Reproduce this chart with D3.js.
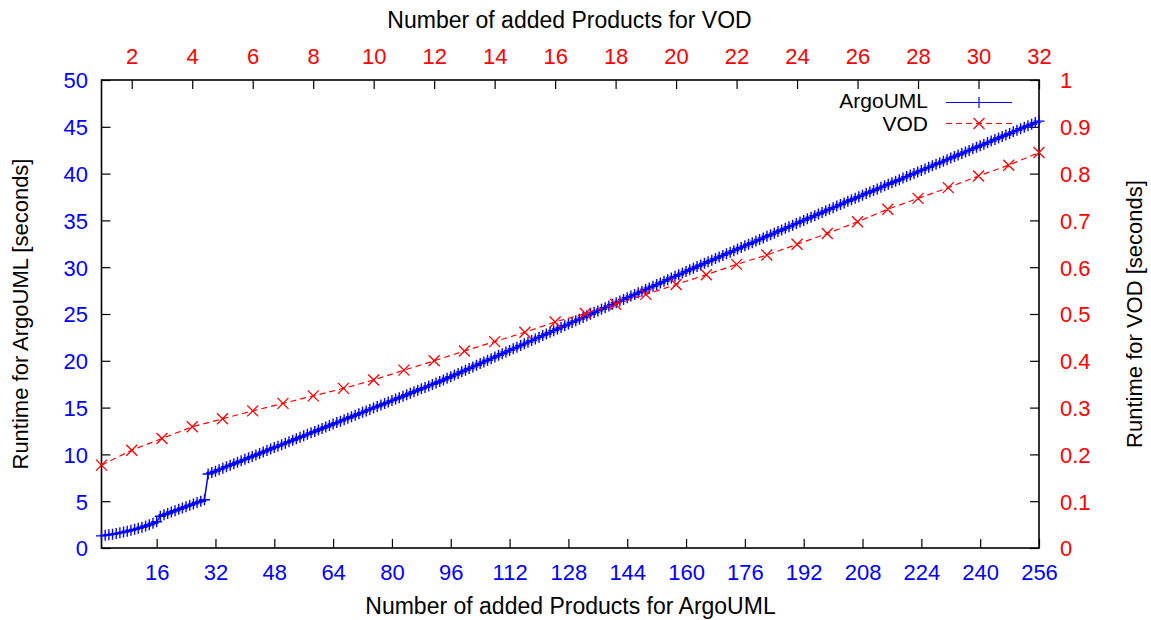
<!DOCTYPE html>
<html>
<head>
<meta charset="utf-8">
<script src="https://cdn.jsdelivr.net/npm/d3@7"></script>
<style>
  html, body { margin: 0; padding: 0; background: #fff; }
  svg text { font-family: "Liberation Sans", Arial, Helvetica, sans-serif; }
</style>
</head>
<body>
<svg id="chart" width="1151" height="620"></svg>
<script>
// ---- Data ----
// ArgoUML runtime (seconds) for 1..256 added products
const argoValues = [
  1.30, 1.35, 1.41, 1.47, 1.54, 1.62, 1.70, 1.79, 1.89, 1.99,
  2.10, 2.22, 2.35, 2.49, 2.64, 2.80, 3.40, 3.55, 3.69, 3.84,
  3.98, 4.13, 4.27, 4.42, 4.57, 4.71, 4.86, 5.00, 5.15, 7.90,
  8.06, 8.21, 8.37, 8.53, 8.69, 8.84, 9.00, 9.16, 9.31, 9.47,
  9.63, 9.78, 9.94, 10.10, 10.26, 10.41, 10.57, 10.73, 10.88, 11.04,
  11.20, 11.35, 11.51, 11.67, 11.83, 11.98, 12.14, 12.30, 12.45, 12.61,
  12.77, 12.92, 13.08, 13.24, 13.40, 13.55, 13.71, 13.87, 14.02, 14.18,
  14.34, 14.49, 14.65, 14.81, 14.97, 15.12, 15.28, 15.44, 15.59, 15.75,
  15.91, 16.06, 16.22, 16.38, 16.54, 16.69, 16.85, 17.01, 17.16, 17.32,
  17.48, 17.63, 17.79, 17.95, 18.13, 18.30, 18.48, 18.65, 18.83, 19.00,
  19.18, 19.35, 19.53, 19.71, 19.88, 20.06, 20.23, 20.41, 20.58, 20.76,
  20.94, 21.11, 21.29, 21.46, 21.64, 21.81, 21.99, 22.16, 22.34, 22.52,
  22.69, 22.87, 23.04, 23.22, 23.39, 23.57, 23.75, 23.92, 24.10, 24.27,
  24.45, 24.62, 24.80, 24.98, 25.15, 25.33, 25.50, 25.68, 25.85, 26.03,
  26.21, 26.38, 26.56, 26.73, 26.91, 27.08, 27.26, 27.43, 27.61, 27.79,
  27.96, 28.14, 28.31, 28.49, 28.66, 28.84, 29.02, 29.19, 29.37, 29.54,
  29.72, 29.89, 30.07, 30.24, 30.41, 30.58, 30.75, 30.92, 31.09, 31.26,
  31.43, 31.60, 31.77, 31.94, 32.11, 32.28, 32.45, 32.62, 32.79, 32.96,
  33.13, 33.30, 33.47, 33.64, 33.81, 33.98, 34.15, 34.32, 34.49, 34.66,
  34.83, 35.00, 35.17, 35.34, 35.51, 35.68, 35.85, 36.02, 36.19, 36.36,
  36.53, 36.70, 36.87, 37.04, 37.21, 37.37, 37.54, 37.70, 37.87, 38.03,
  38.20, 38.36, 38.53, 38.69, 38.86, 39.02, 39.19, 39.35, 39.52, 39.68,
  39.85, 40.01, 40.18, 40.34, 40.50, 40.67, 40.83, 41.00, 41.16, 41.33,
  41.49, 41.66, 41.82, 41.99, 42.15, 42.32, 42.48, 42.65, 42.81, 42.98,
  43.14, 43.31, 43.47, 43.64, 43.80, 43.97, 44.13, 44.29, 44.46, 44.62,
  44.79, 44.95, 45.12, 45.28, 45.45, 45.61
];
// VOD runtime (seconds) for 1..32 added products
const vodValues = [
  0.177, 0.209, 0.234, 0.259, 0.276, 0.293, 0.309, 0.325, 0.341, 0.359,
  0.380, 0.400, 0.421, 0.441, 0.461, 0.483, 0.501, 0.521, 0.542, 0.563,
  0.584, 0.606, 0.626, 0.649, 0.672, 0.697, 0.724, 0.747, 0.770, 0.795,
  0.818, 0.845
];
const bottomTicks = [16, 32, 48, 64, 80, 96, 112, 128, 144, 160, 176, 192, 208, 224, 240, 256];
const topTicks = [2, 4, 6, 8, 10, 12, 14, 16, 18, 20, 22, 24, 26, 28, 30, 32];
const leftTicks = [0, 5, 10, 15, 20, 25, 30, 35, 40, 45, 50];
const rightTicks = [0, 0.1, 0.2, 0.3, 0.4, 0.5, 0.6, 0.7, 0.8, 0.9, 1];
const seriesNames = ["ArgoUML", "VOD"];
const titles = {
  bottom: "Number of added Products for ArgoUML",
  top: "Number of added Products for VOD",
  left: "Runtime for ArgoUML [seconds]",
  right: "Runtime for VOD [seconds]"
};

// ---- Layout ----
const svg = d3.select("#chart");
const L = 101.5, R = 1039, T = 80, B = 548;
const BLUE = "#0000ff", RED = "#ff0000";
const FS = 22;

const xArgo = d3.scaleLinear().domain([1, 256]).range([L, R]);
const xVod = d3.scaleLinear().domain([1, 32]).range([L, R]);
const yArgo = d3.scaleLinear().domain([0, 50]).range([B, T]);
const yVod = d3.scaleLinear().domain([0, 1]).range([B, T]);

const argoData = argoValues.map((v, i) => ({ x: i + 1, y: v }));
const vodData = vodValues.map((v, i) => ({ x: i + 1, y: v }));

// Axes (ticks inward)
function styleAxis(g, color) {
  g.select(".domain").remove();
  g.selectAll(".tick line").attr("stroke", "#000").attr("stroke-width", 1.2);
  g.selectAll(".tick text").attr("fill", color).attr("font-size", FS)
    .attr("font-family", "Liberation Sans, Arial, sans-serif");
}
const gBottom = svg.append("g").attr("transform", `translate(0,${B})`)
  .call(d3.axisBottom(xArgo).tickValues(bottomTicks).tickSizeInner(-9).tickSizeOuter(0));
styleAxis(gBottom, BLUE);
gBottom.selectAll(".tick text").attr("dy", null).attr("y", 32);

const gTop = svg.append("g").attr("transform", `translate(0,${T})`)
  .call(d3.axisTop(xVod).tickValues(topTicks).tickSizeInner(-9).tickSizeOuter(0));
styleAxis(gTop, RED);
gTop.selectAll(".tick text").attr("dy", null).attr("y", -16);

const gLeft = svg.append("g").attr("transform", `translate(${L},0)`)
  .call(d3.axisLeft(yArgo).tickValues(leftTicks).tickSizeInner(-9).tickSizeOuter(0));
styleAxis(gLeft, BLUE);
gLeft.selectAll(".tick text").attr("x", -13.5).attr("dy", "0.36em");

const gRight = svg.append("g").attr("transform", `translate(${R},0)`)
  .call(d3.axisRight(yVod).tickValues(rightTicks).tickSizeInner(-9).tickSizeOuter(0)
    .tickFormat(d => d3.format("")(+d.toFixed(1))));
styleAxis(gRight, RED);
gRight.selectAll(".tick text").attr("x", 21).attr("dy", "0.36em");

// Frame
svg.append("rect").attr("x", L).attr("y", T).attr("width", R - L).attr("height", B - T)
  .attr("fill", "none").attr("stroke", "#000").attr("stroke-width", 1.6);

// Titles
svg.append("text").attr("x", 570.5).attr("y", 614).attr("text-anchor", "middle")
  .attr("font-size", 23).attr("fill", "#000").text(titles.bottom);
svg.append("text").attr("x", 569.5).attr("y", 28).attr("text-anchor", "middle")
  .attr("font-size", 23).attr("fill", "#000").text(titles.top);
svg.append("text").attr("transform", `translate(28,${(T + B) / 2}) rotate(-90)`)
  .attr("text-anchor", "middle").attr("font-size", FS).attr("fill", "#000").text(titles.left);
svg.append("text").attr("transform", `translate(1142,${(T + B) / 2}) rotate(-90)`)
  .attr("text-anchor", "middle").attr("font-size", FS).attr("fill", "#000").text(titles.right);

// Markers
const PH = 5.5; // plus half-size
const XH = 5.5; // cross half-size
function plusPath(cx, cy) { return `M${cx - PH},${cy}H${cx + PH}M${cx},${cy - PH}V${cy + PH}`; }
function crossPath(cx, cy) { return `M${cx - XH},${cy - XH}L${cx + XH},${cy + XH}M${cx - XH},${cy + XH}L${cx + XH},${cy - XH}`; }

// ArgoUML series
const lineArgo = d3.line().x(d => xArgo(d.x)).y(d => yArgo(d.y));
svg.append("path").datum(argoData).attr("d", lineArgo)
  .attr("fill", "none").attr("stroke", BLUE).attr("stroke-width", 1.5);
svg.append("path")
  .attr("d", argoData.map(d => plusPath(xArgo(d.x), yArgo(d.y))).join(""))
  .attr("fill", "none").attr("stroke", BLUE).attr("stroke-width", 1.4);

// VOD series
const lineVod = d3.line().x(d => xVod(d.x)).y(d => yVod(d.y));
svg.append("path").datum(vodData).attr("d", lineVod)
  .attr("fill", "none").attr("stroke", RED).attr("stroke-width", 1.2).attr("stroke-dasharray", "6,4");
svg.append("path")
  .attr("d", vodData.map(d => crossPath(xVod(d.x), yVod(d.y))).join(""))
  .attr("fill", "none").attr("stroke", RED).attr("stroke-width", 1.3);

// Legend
const legend = svg.append("g");
const legRows = [
  { name: seriesNames[0], color: BLUE, dash: null, marker: plusPath, y: 102.5, ty: 107.5 },
  { name: seriesNames[1], color: RED, dash: "6,4", marker: crossPath, y: 123.5, ty: 131 }
];
legRows.forEach(r => {
  legend.append("text").attr("x", 928).attr("y", r.ty)
    .attr("text-anchor", "end").attr("font-size", 21).attr("fill", "#000").text(r.name);
  legend.append("line").attr("x1", 946).attr("x2", 1012).attr("y1", r.y).attr("y2", r.y)
    .attr("stroke", r.color).attr("stroke-width", 1.2).attr("stroke-dasharray", r.dash);
  legend.append("path").attr("d", r.marker(979, r.y))
    .attr("fill", "none").attr("stroke", r.color).attr("stroke-width", 1.2);
});
</script>
</body>
</html>
